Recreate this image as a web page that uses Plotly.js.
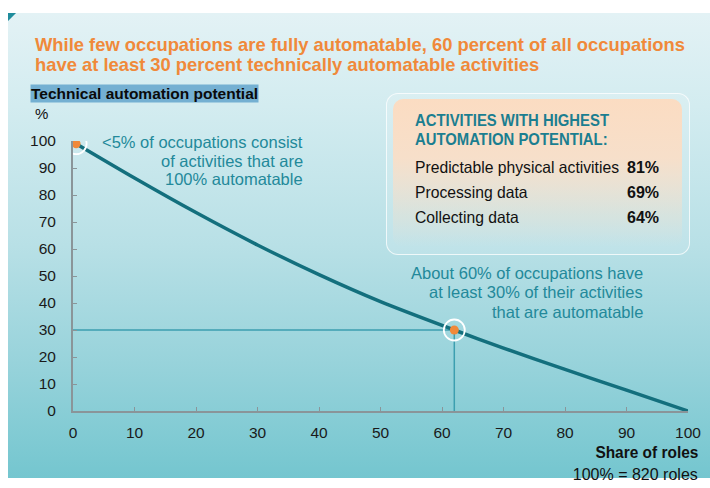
<!DOCTYPE html>
<html>
<head>
<meta charset="utf-8">
<script src="https://cdn.plot.ly/plotly-3.0.1.min.js"></script>
<style>
  html, body { margin: 0; padding: 0; background: #ffffff; }
  #wrap { position: relative; width: 710px; height: 488px; overflow: hidden; background: #ffffff; }
  #panel { position: absolute; left: 8px; top: 13px; width: 702px; height: 465px;
           background: linear-gradient(to bottom, #e3f2f5 0%, #d3ecf0 20%, #b8e0e6 50%, #98d3db 75%, #74c6cf 100%); }
  #corner { position: absolute; left: 8px; top: 13px; width: 9px; height: 9px;
            background: linear-gradient(135deg, #1f8c9c 0%, #1f8c9c 40%, rgba(0,0,0,0) 50%); }
  #boxOuter { position: absolute; left: 386px; top: 93px; width: 302px; height: 160px;
              border: 1.5px solid rgba(255,255,255,0.75); border-radius: 12px; background: rgba(255,255,255,0.12); }
  #boxInner { position: absolute; left: 393px; top: 99px; width: 289px; height: 148px; border-radius: 10px;
              background: linear-gradient(to bottom, rgba(251,220,194,1) 0%, rgba(251,222,198,0.9) 40%, rgba(251,225,205,0) 100%); }
  #chart { position: absolute; left: 0; top: 0; width: 710px; height: 488px; }
</style>
</head>
<body>
<div id="wrap">
  <div id="panel"></div>
  <div id="corner"></div>
  <div id="boxOuter"></div>
  <div id="boxInner"></div>
  <div id="chart"></div>
</div>
<script>
// ---- data ----
const shareOfRoles = [0.5, 10, 20, 30, 40, 50, 62, 70, 80, 90, 100];
const automationPotential = [99, 86.3, 73.5, 61.5, 50.5, 40.5, 30, 23.3, 15.4, 7.7, 0];
const highlightX = [0.5, 62];
const highlightY = [99, 30];
const refLineX = [0, 62, 62];
const refLineY = [30, 30, 0];
const tickValues = [0, 10, 20, 30, 40, 50, 60, 70, 80, 90, 100];
const tickLabels = ["0", "10", "20", "30", "40", "50", "60", "70", "80", "90", "100"];
const activities = ["Predictable physical activities", "Processing data", "Collecting data"];
const activityShares = [81, 69, 64];
const calloutTop = ["&lt;5% of occupations consist", "of activities that are", "100% automatable"];
const calloutMid = ["About 60% of occupations have", "at least 30% of their activities", "that are automatable"];

// ---- layout helpers (pixel -> paper) ----
const L = 73, R = 22, T = 141, B = 77, W = 710, H = 488;
const PW = W - L - R, PH = H - T - B;
const px = x => (x - L) / PW;
const py = y => (H - B - y) / PH;

const ORANGE = "#f0893a";
const TEAL_TXT = "#23899a";
const TEAL_LINE = "#136f7d";
const SANS = "Liberation Sans, Arial, Helvetica, sans-serif";

const traces = [
  { x: refLineX, y: refLineY, mode: "lines", line: { color: "#3c9fb0", width: 1.5 }, hoverinfo: "skip", showlegend: false },
  { x: shareOfRoles, y: automationPotential, mode: "lines", line: { color: TEAL_LINE, width: 3.5, shape: "spline", smoothing: 0.8 }, showlegend: false },
  { x: highlightX, y: highlightY, mode: "markers", marker: { symbol: "circle-open", size: 21, color: "#ffffff", line: { width: 1.8, color: "#ffffff" } }, hoverinfo: "skip", showlegend: false },
  { x: highlightX, y: highlightY, mode: "markers", marker: { symbol: "circle", size: 9, color: ORANGE }, showlegend: false }
];

const ann = [];
const squeeze = []; // per annotation: null, or {width: target px} or {factor: f}
function text(t, x, y, opts, sq) {
  const o = Object.assign({ text: t, xref: "paper", yref: "paper", x: px(x), y: py(y), showarrow: false,
    xanchor: "left", align: "left", yanchor: "middle", font: { family: SANS, size: 15, color: "#111" } }, opts || {});
  if (o.xanchor === "right") o.align = "right";
  ann.push(o);
  squeeze.push(sq || null);
}
// title
text("<b>While few occupations are fully automatable, 60 percent of all occupations</b>", 33, 44, { font: { family: SANS, size: 19, color: ORANGE } }, { width: 650, group: "title" });
text("<b>have at least 30 percent technically automatable activities</b>", 33, 64, { font: { family: SANS, size: 19, color: ORANGE } }, { group: "title" });
// y axis title
text("<b>Technical automation potential</b>", 30, 93, { font: { family: SANS, size: 15.5, color: "#0a0a0a" }, bgcolor: "#74b0d2", borderpad: 0 });
text("%", 33, 113, { font: { family: SANS, size: 15, color: "#111" } });
// x axis title
text("<b>Share of roles</b>", 700, 453, { xanchor: "right", font: { family: SANS, size: 17, color: "#111" } }, { width: 103 });
text("100% = 820 roles", 700, 474, { xanchor: "right", font: { family: SANS, size: 17, color: "#111" } }, { width: 125 });
// callouts
[142, 161, 179].forEach((yy, i) => text(calloutTop[i], 305, yy, { xanchor: "right", font: { family: SANS, size: 16.5, color: TEAL_TXT } }));
[273, 292, 312].forEach((yy, i) => text(calloutMid[i], 645, yy, { xanchor: "right", font: { family: SANS, size: 16.5, color: TEAL_TXT } }));
// box
text("<b>ACTIVITIES WITH HIGHEST</b>", 413, 120, { font: { family: SANS, size: 17, color: "#1b7e90" } }, { width: 194, group: "box" });
text("<b>AUTOMATION POTENTIAL:</b>", 413, 140, { font: { family: SANS, size: 17, color: "#1b7e90" } }, { group: "box" });
const rowY = [167, 192, 217];
activities.forEach((a, i) => {
  text(a, 413, rowY[i], { font: { family: SANS, size: 16.5, color: "#111" } }, i === 0 ? { width: 204, group: "rows" } : { group: "rows" });
  text("<b>" + activityShares[i] + "%</b>", 661, rowY[i], { xanchor: "right", font: { family: SANS, size: 16, color: "#111" } });
});

const layout = {
  width: W, height: H,
  margin: { l: L, r: R, t: T, b: B, pad: 0 },
  paper_bgcolor: "rgba(0,0,0,0)", plot_bgcolor: "rgba(0,0,0,0)",
  showlegend: false,
  xaxis: { range: [0, 100], tickvals: tickValues, ticktext: tickLabels, showgrid: false, zeroline: false,
           showline: true, linecolor: "#8a9599", linewidth: 2, ticks: "inside", ticklen: 4, tickcolor: "#8a9599",
           tickfont: { family: SANS, size: 15.5, color: "#1a1a1a" }, ticklabelstandoff: 6, fixedrange: true },
  yaxis: { range: [0, 100], tickvals: tickValues, ticktext: tickLabels, showgrid: false, zeroline: false,
           showline: true, linecolor: "#8a9599", linewidth: 2, ticks: "inside", ticklen: 4, tickcolor: "#8a9599",
           tickfont: { family: SANS, size: 15.5, color: "#1a1a1a" }, ticklabelstandoff: 12, fixedrange: true },
  annotations: ann
};

Plotly.newPlot("chart", traces, layout, { displayModeBar: false, staticPlot: true }).then(() => {
  const texts = {};
  document.querySelectorAll("#chart .annotation").forEach(g => {
    const idx = +g.getAttribute("data-index");
    const t = g.querySelector("text.annotation-text");
    if (t) texts[idx] = t;
  });
  const groupFactor = {};
  squeeze.forEach((s, i) => {
    if (s && s.width && texts[i]) {
      const f = s.width / texts[i].getComputedTextLength();
      if (s.group) groupFactor[s.group] = f; else s.factor = f;
    }
  });
  squeeze.forEach((s, i) => {
    if (!s || !texts[i]) return;
    const f = s.group ? groupFactor[s.group] : s.factor;
    if (!f) return;
    const w = texts[i].getComputedTextLength();
    texts[i].setAttribute("textLength", (w * f).toFixed(1));
    texts[i].setAttribute("lengthAdjust", "spacingAndGlyphs");
  });
});
</script>
</body>
</html>
